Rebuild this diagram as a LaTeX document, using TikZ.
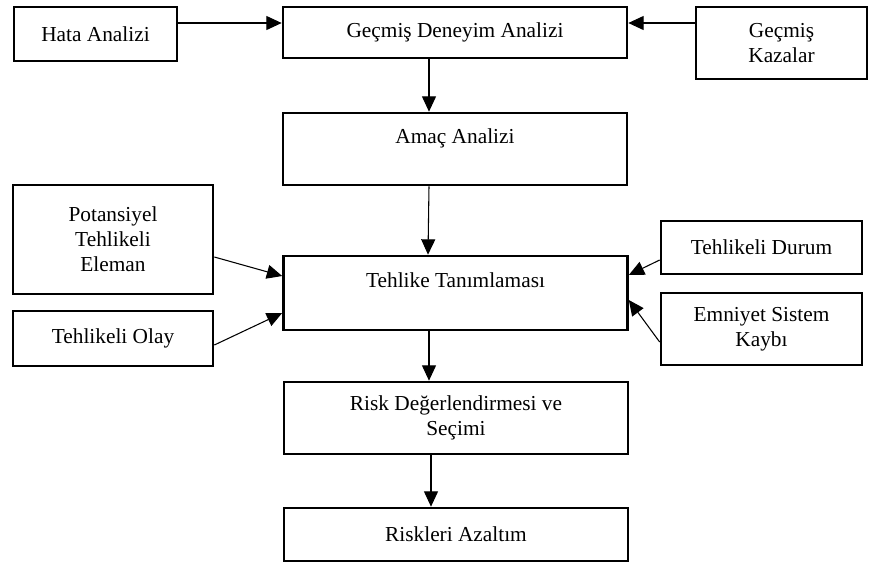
\documentclass[tikz,border=0pt]{standalone}
\usepackage{fontspec}
\setmainfont{Liberation Serif}
\usetikzlibrary{positioning,calc,arrows.meta}

\begin{document}
\begin{tikzpicture}[x=0.75pt, y=-0.75pt, font=\fontsize{16}{18.75}\selectfont,
        block/.style={draw, line width=2pt, minimum width=258pt, inner sep=2pt, align=center},
        side/.style={block, minimum width=150pt},
        arr/.style={-{Triangle[length=11.5pt, width=10.5pt]}, line width=0.8pt}]
    \useasboundingbox[fill=white] (0,0) rectangle (869,562);
    % main column
    \node[block, minimum height=38.25pt] (GDA) at (455,32.5) {Geçmiş Deneyim Analizi};
    \node[block, minimum height=54pt] (AA) at (455,149) {Amaç Analizi\\\mbox{}};
    \node[block, minimum height=55.5pt] (TT) at (455.5,293) {Tehlike Tanımlaması\\\mbox{}};
    \node[block, minimum height=54pt] (RDS) at (456,418) {Risk Değerlendirmesi ve\\Seçimi};
    \node[block, minimum height=39.75pt] (RA) at (456,534.5) {Riskleri Azaltım};
    % inputs
    \node[side, minimum width=122.25pt, minimum height=40.5pt] (HA) at (95.5,34) {Hata Analizi};
    \node[side, minimum width=128.25pt, minimum height=54pt] (GK) at (781.5,43) {Geçmiş\\Kazalar};
    \node[side, minimum height=81.75pt] (PTE) at (113,239.5) {Potansiyel\\Tehlikeli\\Eleman};
    \node[side, minimum height=41.25pt] (TO) at (113,338.5) {Tehlikeli Olay};
    \node[side, minimum width=150.75pt, minimum height=39.75pt] (TD) at (761.5,247.5) {Tehlikeli Durum};
    \node[side, minimum width=150.75pt, minimum height=54pt] (ESK) at (761.5,329) {Emniyet Sistem\\Kaybı};
    % arrows
    \draw[arr] ($(HA.east)+(0,-11)$) -- ($(GDA.west)+(0,-9.5)$);
    \draw[arr] ($(GK.west)+(0,-20)$) -- ($(GDA.east)+(0,-9.5)$);
    \draw[arr] ($(GDA.south)+(-26,0)$) -- ($(AA.north)+(-26,0)$);
    \draw[arr] ($(AA.south)+(-26,0)$) -- ($(TT.north)+(-27.5,0)$);
    \draw[arr] ($(TT.south)+(-26.5,0)$) -- ($(RDS.north)+(-27,0)$);
    \draw[arr] ($(RDS.south)+(-25,0)$) -- ($(RA.north)+(-25,0)$);
    \draw[arr] ($(PTE.east)+(0,17.5)$) -- ($(TT.west)+(0,-17)$);
    \draw[arr] ($(TO.east)+(0,6.5)$) -- ($(TT.west)+(0,20)$);
    \draw[arr] ($(TD.west)+(0,12.5)$) -- ($(TT.east)+(0,-18)$);
    \draw[arr] ($(ESK.west)+(0,13)$) -- ($(TT.east)+(0,7)$);
\end{tikzpicture}
\end{document}
